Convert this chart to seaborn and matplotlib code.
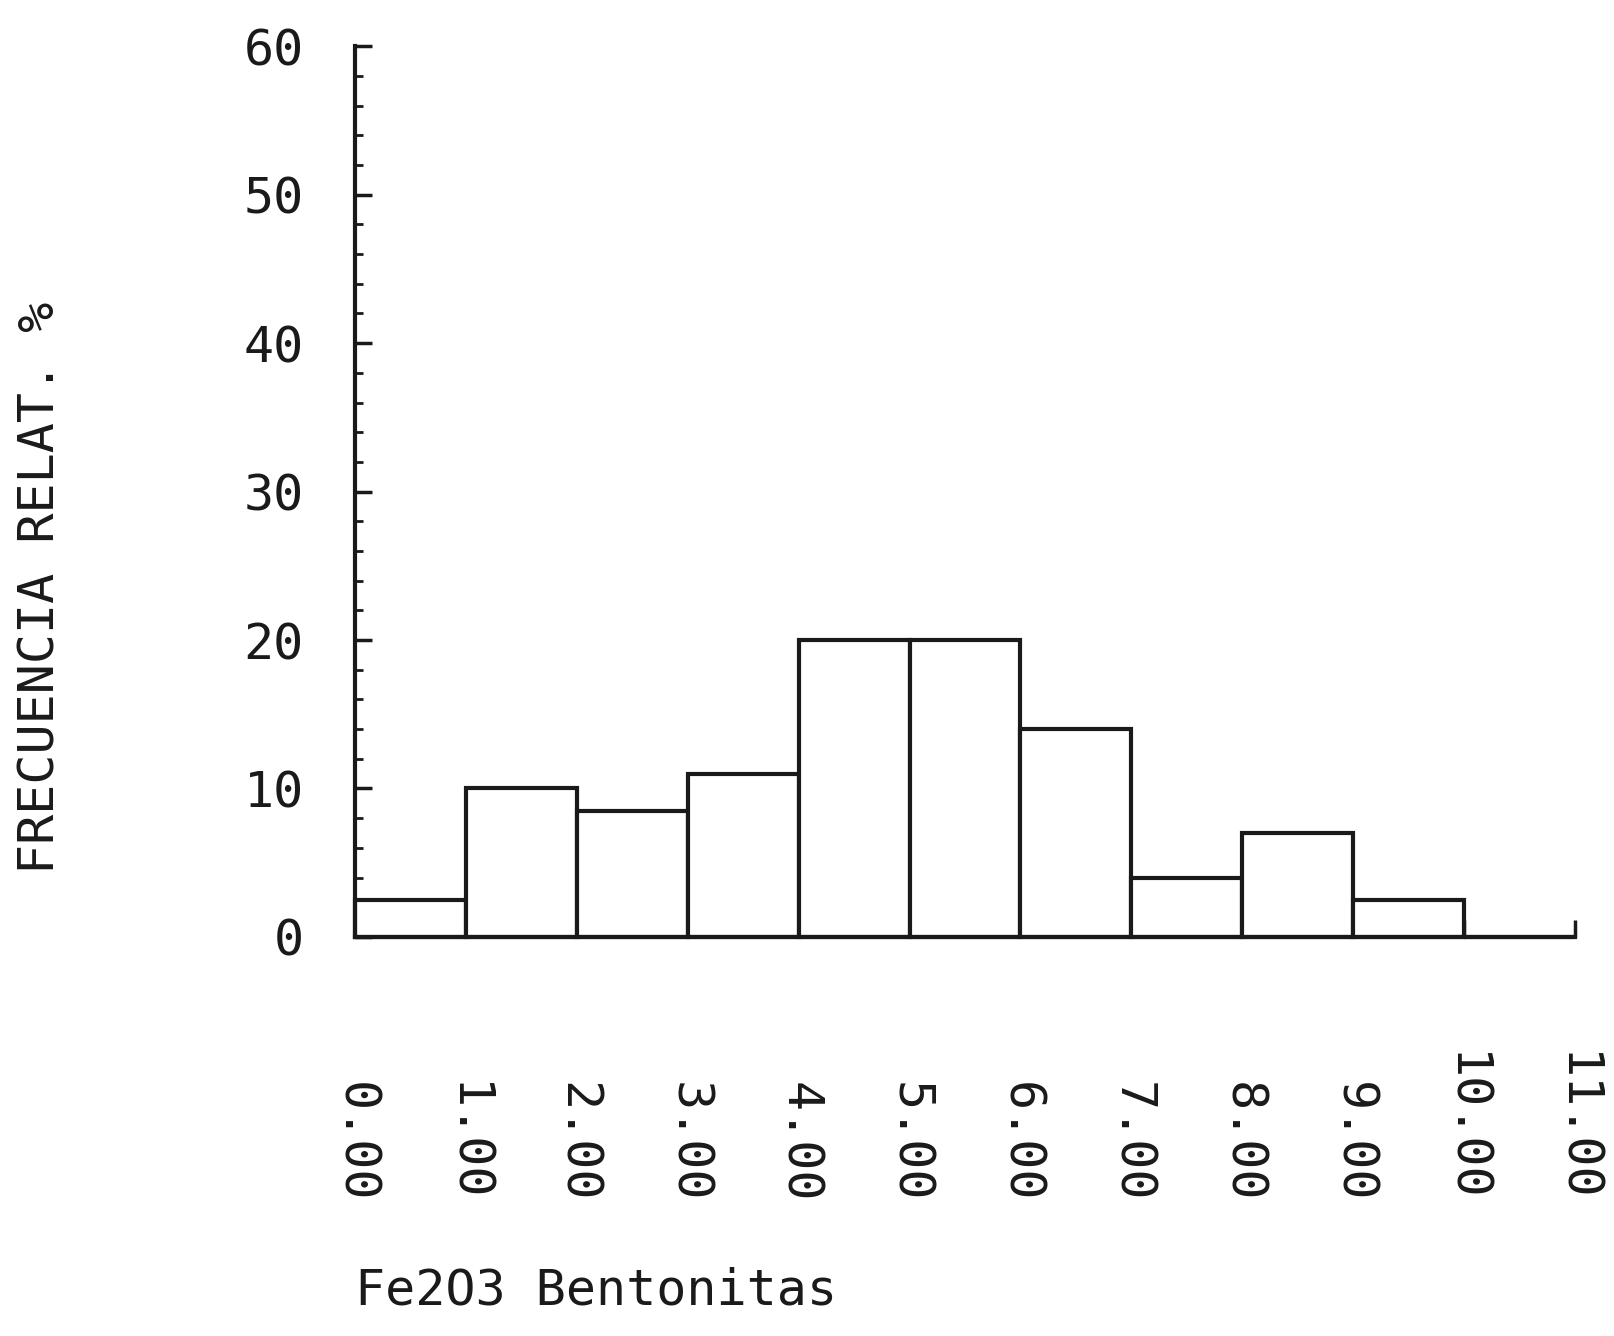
import matplotlib
matplotlib.use("Agg")
import matplotlib.pyplot as plt
from matplotlib.ticker import MultipleLocator
import numpy as np
import pandas as pd
import seaborn as sns

# Class limits (Fe2O3 content) and relative frequency per class (%)
bin_edges = [0, 1, 2, 3, 4, 5, 6, 7, 8, 9, 10, 11]
rel_freq = [2.5, 10.0, 8.5, 11.0, 20.0, 20.0, 14.0, 4.0, 7.0, 2.5, 0.0]
x_tick_values = [0, 1, 2, 3, 4, 5, 6, 7, 8, 9, 10, 11]
x_tick_labels = ["0.00", "1.00", "2.00", "3.00", "4.00", "5.00",
                 "6.00", "7.00", "8.00", "9.00", "10.00", "11.00"]
y_tick_values = [0, 10, 20, 30, 40, 50, 60]
y_tick_labels = ["0", "10", "20", "30", "40", "50", "60"]
y_title = "FRECUENCIA RELAT. %"
x_title = "Fe2O3 Bentonitas"

sns.set_theme(style="ticks")
plt.rcParams["font.family"] = ["DejaVu Sans Mono", "DejaVu Sans"]

ink = "#1a1a1a"
lw = 3.0
fs = 36

fig = plt.figure(figsize=(16.14, 13.36), dpi=100)
fig.patch.set_facecolor("white")
ax = fig.add_axes([0.22, 0.2987, 0.7558, 0.6667])
ax.set_facecolor("white")

centers = [(a + b) / 2 for a, b in zip(bin_edges[:-1], bin_edges[1:])]
df = pd.DataFrame({"fe2o3": centers, "frecuencia": rel_freq})
sns.histplot(data=df, x="fe2o3", weights="frecuencia", bins=bin_edges,
             color="white", edgecolor=ink, linewidth=lw, alpha=1.0, ax=ax)
for p in ax.patches:
    p.set_clip_on(False)

ax.set_xlim(bin_edges[0], bin_edges[-1])
ax.set_ylim(0, 60)

for side in ("top", "right"):
    ax.spines[side].set_visible(False)
for side in ("left", "bottom"):
    ax.spines[side].set_linewidth(lw)
    ax.spines[side].set_color(ink)

ax.set_yticks(y_tick_values)
ax.set_yticklabels(y_tick_labels)
ax.yaxis.set_minor_locator(MultipleLocator(2))
ax.set_xticks(x_tick_values)
ax.set_xticklabels(x_tick_labels)

ax.tick_params(axis="both", which="major", direction="in", length=12,
               width=2.5, color=ink, labelcolor=ink, labelsize=fs)
ax.tick_params(axis="y", which="minor", direction="in", length=6,
               width=2, color=ink)
ax.tick_params(axis="y", which="major", pad=37)
ax.tick_params(axis="x", which="major", pad=191)

# Vertical tick labels on x, their ends aligned on a common bottom line
for lab in ax.get_xticklabels():
    lab.set_rotation(270)
    lab.set_rotation_mode("anchor")
    lab.set_horizontalalignment("right")
    lab.set_verticalalignment("center")

ax.set_ylabel(y_title, fontsize=fs, color=ink)
ax.yaxis.set_label_coords(-0.238, 0.392)
ax.set_xlabel(x_title, fontsize=fs, color=ink, loc="left")
ax.xaxis.set_label_coords(0.0, -0.37)

fig.savefig("out.png", dpi=100, facecolor="white")
